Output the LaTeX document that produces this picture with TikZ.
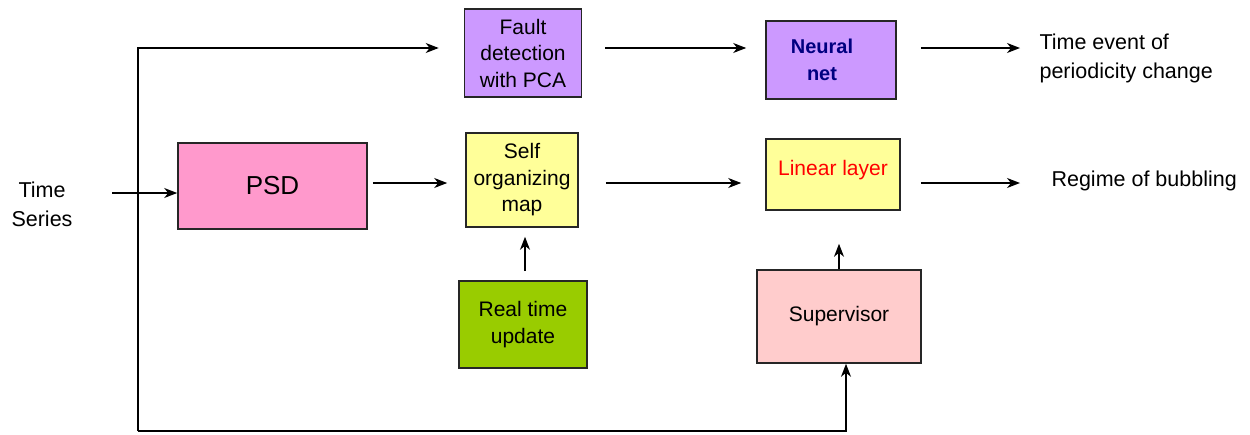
\documentclass[tikz,border=0pt]{standalone}
\usepackage{fontspec}
\setmainfont{Liberation Sans}
\usetikzlibrary{positioning, calc, arrows.meta}

\definecolor{lilac}{HTML}{CC99FF}
\definecolor{rose}{HTML}{FF99CC}
\definecolor{paleyellow}{HTML}{FFFF99}
\definecolor{leaf}{HTML}{99CC00}
\definecolor{blush}{HTML}{FFCCCC}
\definecolor{navytext}{HTML}{000080}

\tikzset{
    block/.style={draw=black!85, line width=1.6pt, align=center, inner sep=1pt,
        font=\fontsize{21}{26.5}\selectfont},
    arrow/.style={-{Stealth[length=13pt, width=10pt, inset=4pt]}, line width=1.3pt},
    plain/.style={align=left, font=\fontsize{21.5}{29}\selectfont}
}

\begin{document}
\begin{tikzpicture}[x=1pt, y=-1pt]
    \useasboundingbox (0,0) rectangle (1250,434);
    \node[block, fill=lilac, minimum width=117pt, minimum height=88pt]
        (fault) at (523,53) {Fault\\detection\\with PCA};
    \node[block, fill=lilac, minimum width=130pt, minimum height=78pt,
        text=navytext, font=\fontsize{20}{27}\selectfont\bfseries]
        (neural) at (831,60) {Neural\hspace*{18pt}\\net\hspace*{18pt}};
    \node[block, fill=rose, minimum width=189pt, minimum height=86pt,
        font=\fontsize{26}{30}\selectfont] (psd) at (272.5,186) {PSD};
    \node[block, fill=paleyellow, minimum width=112pt, minimum height=94pt]
        (som) at (522,180) {Self\\organizing\\map};
    \node[block, fill=paleyellow, minimum width=134pt, minimum height=71pt,
        text=red] (linear) at (833,174.5)
        {\raisebox{0pt}[\height][\dimexpr\depth+9pt\relax]{Linear layer}};
    \node[block, fill=leaf, minimum width=128pt, minimum height=87pt]
        (realtime) at (523,324.5) {Real time\\update};
    \node[block, fill=blush, minimum width=164pt, minimum height=93pt]
        (supervisor) at (839,316.5) {Supervisor};
    \node[plain, align=center] (series) at (42,204) {Time\\Series};
    \node[plain, anchor=west] (event) at (1036,58) {Time event of\\periodicity change};
    \node[plain, anchor=west] (regime) at (1048,181) {Regime of bubbling};

    \coordinate (top) at (138,48);
    \coordinate (bot) at (138,431);
    \coordinate (tsin) at (112,193);
    \coordinate (out1) at (1020,48);
    \coordinate (out2) at (1020,183);

    \draw[arrow, shorten >=25pt] (bot) -- (top) -- (top -| fault.west);
    \draw[arrow] (bot) -- ([xshift=7pt]bot -| supervisor.south)
        -- ([xshift=7pt]supervisor.south);
    \draw[arrow] (tsin) -- (tsin -| psd.west);
    \draw[arrow, shorten <=23pt, shorten >=19pt] (top -| fault.east) -- (top -| neural.west);
    \draw[arrow, shorten <=24pt] (top -| neural.east) -- (out1);
    \draw[arrow, shorten <=5pt, shorten >=18pt] (out2 -| psd.east) -- (out2 -| som.west);
    \draw[arrow, shorten <=27pt, shorten >=24pt] (out2 -| som.east) -- (out2 -| linear.west);
    \draw[arrow, shorten <=20pt] (out2 -| linear.east) -- (out2);
    \draw[arrow, shorten <=9pt, shorten >=9pt] ([xshift=2pt]realtime.north) -- ([xshift=2pt]realtime.north |- som.south);
    \draw[arrow, shorten >=33pt] (supervisor.north) -- (supervisor.north |- linear.south);
\end{tikzpicture}
\end{document}
